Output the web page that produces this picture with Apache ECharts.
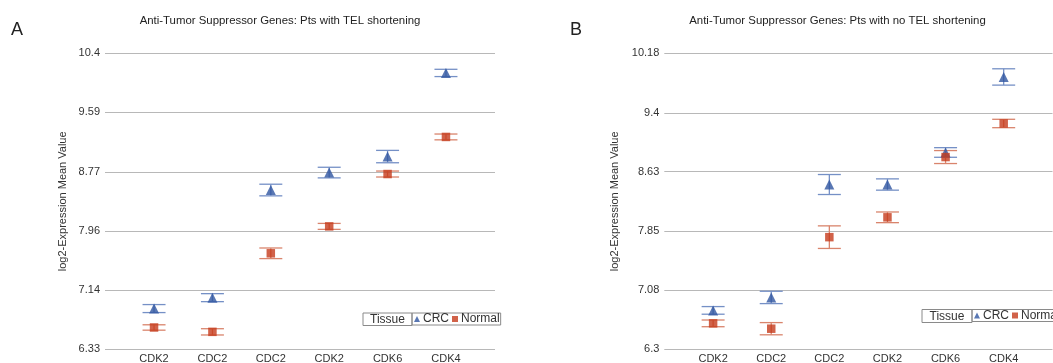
<!DOCTYPE html>
<html>
<head>
<meta charset="utf-8">
<script src="https://cdn.jsdelivr.net/npm/echarts@6/dist/echarts.min.js"></script>
<style>
  html, body { margin: 0; padding: 0; background: #fff; }
  #chart { width: 1053px; height: 363px; }
</style>
</head>
<body>
<div id="chart"></div>
<script>
const categories = ["CDK2", "CDC2", "CDC2", "CDK2", "CDK6", "CDK4"];

// panel A: pts with TEL shortening
const crcA = [6.89, 7.04, 8.52, 8.76, 8.98, 10.13];
const crcAErr = [0.055, 0.055, 0.08, 0.073, 0.085, 0.05];
const normalA = [6.63, 6.57, 7.65, 8.02, 8.74, 9.25];
const normalAErr = [0.037, 0.043, 0.073, 0.041, 0.041, 0.04];
const ticksA = [6.33, 7.14, 7.96, 8.77, 9.59, 10.4];

// panel B: pts with no TEL shortening
const crcB = [6.81, 6.98, 8.46, 8.46, 8.88, 9.87];
const crcBErr = [0.05, 0.081, 0.131, 0.074, 0.063, 0.107];
const normalB = [6.64, 6.57, 7.77, 8.03, 8.82, 9.26];
const normalBErr = [0.044, 0.08, 0.148, 0.07, 0.085, 0.055];
const ticksB = [6.3, 7.08, 7.85, 8.63, 9.4, 10.18];

const FONT = "'Liberation Sans', Arial, sans-serif";
const TEXT_COLOR = "#333";
const CRC_COLOR = "#2f55a0";
const CRC_BAR = "#7590c6";
const NORMAL_COLOR = "#c63b1c";
const NORMAL_BAR = "#d9846c";

function errorBarItem(color) {
  return function (params, api) {
    const x = api.value(0);
    const lo = api.coord([x, api.value(1)]);
    const hi = api.coord([x, api.value(2)]);
    const half = 11.5;
    const style = { stroke: color, lineWidth: 1.3 };
    return {
      type: "group",
      children: [
        { type: "line", shape: { x1: hi[0] - half, y1: hi[1], x2: hi[0] + half, y2: hi[1] }, style },
        { type: "line", shape: { x1: lo[0] - half, y1: lo[1], x2: lo[0] + half, y2: lo[1] }, style },
        { type: "line", shape: { x1: hi[0], y1: hi[1], x2: lo[0], y2: lo[1] }, style },
      ],
    };
  };
}

function barData(values, errs) {
  return values.map((v, i) => [i, v - errs[i], v + errs[i]]);
}

function pointData(values) {
  return values.map((v, i) => [i, v]);
}

function makeX(gridIndex) {
  return {
    type: "value",
    gridIndex,
    min: -0.84,
    max: 5.84,
    axisLine: { show: false },
    axisTick: { show: false },
    splitLine: { show: false },
    axisLabel: {
      customValues: categories.map((c, i) => i),
      formatter: (v) => categories[v] || "",
      color: TEXT_COLOR,
      fontFamily: FONT,
      fontSize: 11,
      margin: 4,
    },
  };
}

function makeY(gridIndex, ticks, nameGap) {
  return {
    type: "value",
    gridIndex,
    min: ticks[0],
    max: ticks[ticks.length - 1],
    name: "log2-Expression Mean Value",
    nameLocation: "middle",
    nameGap,
    nameTextStyle: { color: TEXT_COLOR, fontFamily: FONT, fontSize: 11 },
    axisLine: { show: false },
    axisTick: { show: false, customValues: ticks },
    axisLabel: {
      customValues: ticks,
      formatter: (v) => `${v}`,
      color: TEXT_COLOR,
      fontFamily: FONT,
      fontSize: 11,
      margin: 5,
    },
    splitLine: { show: true, lineStyle: { color: "#b8b8b8", width: 1 } },
  };
}

function makeSeries(idx, crc, crcErr, normal, normalErr) {
  return [
    {
      name: "CRC err",
      type: "custom",
      xAxisIndex: idx,
      yAxisIndex: idx,
      renderItem: errorBarItem(CRC_BAR),
      encode: { x: 0, y: [1, 2] },
      data: barData(crc, crcErr),
      z: 1,
    },
    {
      name: "Normal err",
      type: "custom",
      xAxisIndex: idx,
      yAxisIndex: idx,
      renderItem: errorBarItem(NORMAL_BAR),
      encode: { x: 0, y: [1, 2] },
      data: barData(normal, normalErr),
      z: 1,
    },
    {
      name: "CRC",
      type: "scatter",
      xAxisIndex: idx,
      yAxisIndex: idx,
      symbol: "triangle",
      symbolSize: [10, 10],
      itemStyle: { color: CRC_COLOR },
      data: pointData(crc),
      z: 3,
    },
    {
      name: "Normal",
      type: "scatter",
      xAxisIndex: idx,
      yAxisIndex: idx,
      symbol: "rect",
      symbolSize: 8.5,
      itemStyle: { color: NORMAL_COLOR },
      data: pointData(normal),
      z: 3,
    },
  ];
}

function makeLegend(left, top) {
  return {
    data: ["CRC", "Normal"],
    orient: "horizontal",
    left,
    top,
    width: 120,
    padding: [0, 1, 0, 2],
    itemGap: 3,
    itemWidth: 6,
    itemHeight: 6,
    borderColor: "#8a8a8a",
    borderWidth: 1,
    selectedMode: false,
    textStyle: { color: TEXT_COLOR, fontFamily: FONT, fontSize: 12, lineHeight: 12, padding: [0, 0, 0, -2] },
  };
}

function tissueCell(x, y, w, h) {
  return {
    type: "group",
    children: [
      { type: "rect", shape: { x, y, width: w, height: h }, style: { fill: "#fff", stroke: "#8a8a8a", lineWidth: 1 } },
      {
        type: "text",
        x: x + w / 2,
        y: y + h / 2 + 0.5,
        style: { text: "Tissue", fill: TEXT_COLOR, font: `12px ${FONT}`, textAlign: "center", textVerticalAlign: "middle" },
      },
    ],
  };
}

function label(text, x, y, size, align) {
  return {
    type: "text",
    x,
    y,
    style: { text, fill: "#222", font: `${size}px ${FONT}`, textAlign: align, textVerticalAlign: "middle" },
  };
}

const myChart = echarts.init(document.getElementById("chart"), null, { renderer: "canvas" });

const option = {
  animation: false,
  backgroundColor: "#fff",
  grid: [
    { left: 105, right: 558, top: 53.3, bottom: 13.7, outerBoundsMode: "none" },
    { left: 664.3, right: 0.5, top: 53.3, bottom: 13.7, outerBoundsMode: "none" },
  ],
  xAxis: [makeX(0), makeX(1)],
  yAxis: [makeY(0, ticksA, 37), makeY(1, ticksB, 44)],
  legend: [makeLegend(412, 313), makeLegend(972, 309.5)],
  graphic: [
    label("A", 11, 30, 18, "left"),
    label("B", 570, 30, 18, "left"),
    label("Anti-Tumor Suppressor Genes: Pts with TEL shortening", 280, 21, 11.4, "center"),
    label("Anti-Tumor Suppressor Genes: Pts with no TEL shortening", 837.5, 21, 11.4, "center"),
    tissueCell(363, 313, 49, 12.5),
    tissueCell(922, 309.5, 50, 13),
  ],
  series: [
    ...makeSeries(0, crcA, crcAErr, normalA, normalAErr),
    ...makeSeries(1, crcB, crcBErr, normalB, normalBErr),
  ],
};

option && myChart.setOption(option);
</script>
</body>
</html>
